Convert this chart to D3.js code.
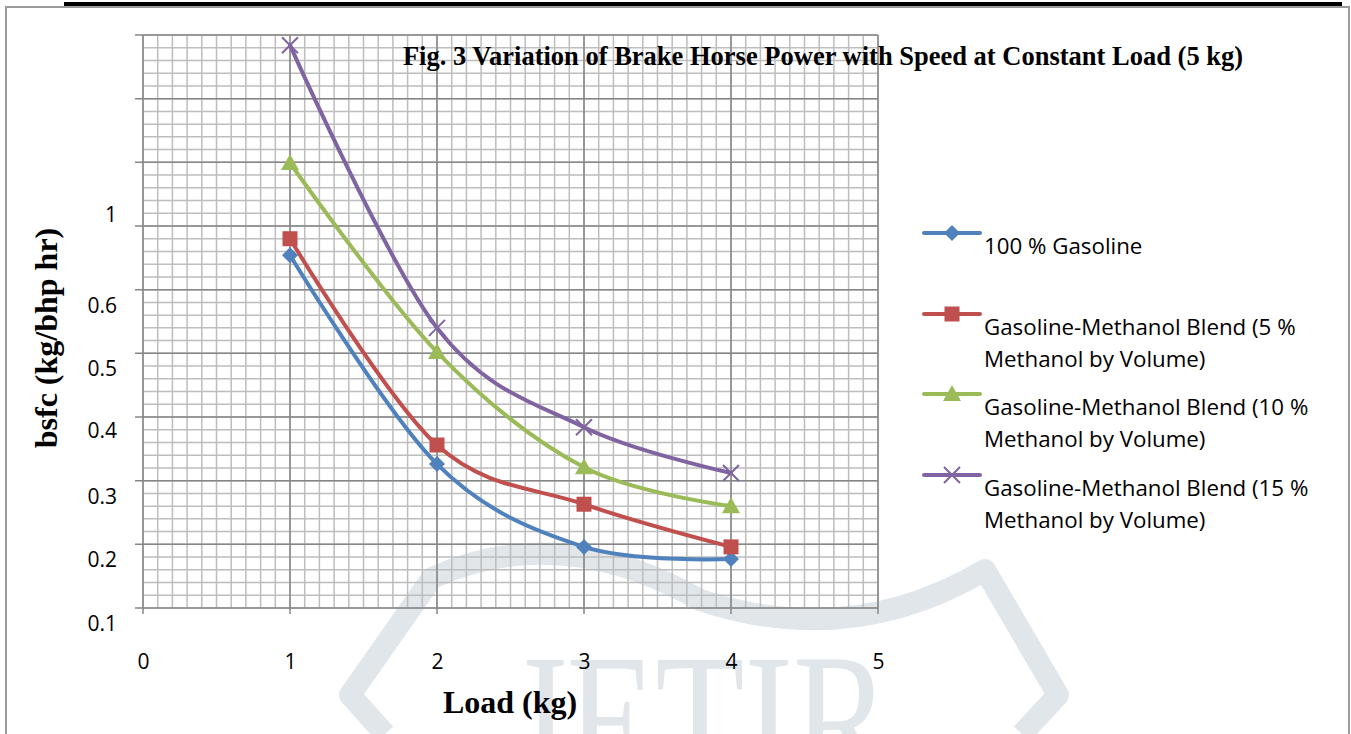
<!DOCTYPE html>
<html>
<head>
<meta charset="utf-8">
<script src="https://cdn.jsdelivr.net/npm/d3@7"></script>
<style>
  body { margin: 0; background: #fff; }
  svg { display: block; }
</style>
</head>
<body>
<div id="chart"></div>
<script>
// values
const loads = [1, 2, 3, 4];
const gasoline = [0.654, 0.326, 0.196, 0.177];
const blend5 = [0.680, 0.356, 0.263, 0.196];
const blend10 = [0.799, 0.502, 0.321, 0.260];
const blend15 = [0.984, 0.540, 0.384, 0.312];

const seriesNames = [
    ["100 % Gasoline"],
    ["Gasoline-Methanol Blend (5 %", "Methanol by Volume)"],
    ["Gasoline-Methanol Blend (10 %", "Methanol by Volume)"],
    ["Gasoline-Methanol Blend (15 %", "Methanol by Volume)"]
];
const seriesColors = ["#4f81bd", "#c0504d", "#9bbb59", "#8064a2"];
const seriesMarkers = ["diamond", "square", "triangle", "cross"];

const xTicks = [0, 1, 2, 3, 4, 5];
// the labels in the original sit a bit off the grid lines
const yTickLabels = ["0.1", "0.2", "0.3", "0.4", "0.5", "0.6", "1"];
const yTickLabelAt = [0.075, 0.175, 0.275, 0.378, 0.475, 0.574, 0.717];

const width = 1351, height = 734;
const sans = "'Open Sans', Lato, sans-serif";
const serif = "'Liberation Serif', 'Times New Roman', serif";

var svg = d3.select("#chart")
    .append("svg")
    .attr("width", width)
    .attr("height", height);

// page frame
svg.append("rect")
    .attr("x", 6).attr("y", 7)
    .attr("width", 1343).attr("height", 740)
    .attr("fill", "none")
    .attr("stroke", "#9a9a9a")
    .attr("stroke-width", 2);
svg.append("rect")
    .attr("x", 64).attr("y", 2)
    .attr("width", 1278).attr("height", 4)
    .attr("fill", "#000");

var x = d3.scaleLinear().domain([0, 5]).range([143, 878]);
var y = d3.scaleLinear().domain([0.1, 1.0]).range([608, 35]);

// faint journal watermark (behind everything, grid shows through it)
var wm = svg.append("g").attr("pointer-events", "none");
wm.append("path")
    .attr("d", "M385,734L350,695L432,578Q560,520 700,600Q850,650 985,570L1058,695L1022,734")
    .attr("fill", "none")
    .attr("stroke", "#e1e6eb")
    .attr("stroke-width", 22)
    .attr("stroke-linejoin", "round");
wm.append("text")
    .attr("x", 510).attr("y", 785)
    .attr("textLength", 380)
    .attr("lengthAdjust", "spacingAndGlyphs")
    .attr("font-family", serif)
    .attr("font-size", 190)
    .attr("fill", "#e1e6eb")
    .text("JETIR");

var grid = svg.append("g").attr("class", "grid");

// minor grid
var minorX = d3.range(0, 51).map(function (i) { return i / 10; });
var minorY = d3.range(0, 46).map(function (i) { return 0.1 + i * 0.02; });

grid.selectAll(".minor-v")
    .data(minorX)
    .enter()
    .append("line")
    .attr("x1", function (d) { return x(d); })
    .attr("x2", function (d) { return x(d); })
    .attr("y1", y(1.0)).attr("y2", y(0.1))
    .attr("stroke", "#bdbdbd")
    .attr("stroke-width", 1.5);

grid.selectAll(".minor-h")
    .data(minorY)
    .enter()
    .append("line")
    .attr("x1", x(0)).attr("x2", x(5))
    .attr("y1", function (d) { return y(d); })
    .attr("y2", function (d) { return y(d); })
    .attr("stroke", "#bdbdbd")
    .attr("stroke-width", 1.5);

// major grid, extended a little past the axes as tick marks
var majorY = d3.range(0, 10).map(function (i) { return 0.1 + i * 0.1; });

grid.selectAll(".major-h")
    .data(majorY)
    .enter()
    .append("line")
    .attr("x1", x(0) - 8).attr("x2", x(5))
    .attr("y1", function (d) { return y(d); })
    .attr("y2", function (d) { return y(d); })
    .attr("stroke", "#868686")
    .attr("stroke-width", 1.5);

grid.selectAll(".major-v")
    .data(xTicks)
    .enter()
    .append("line")
    .attr("x1", function (d) { return x(d); })
    .attr("x2", function (d) { return x(d); })
    .attr("y1", y(1.0)).attr("y2", y(0.1) + 6)
    .attr("stroke", "#868686")
    .attr("stroke-width", 1.5);

// axes (labels only, the lines come from the grid)
var xAxis = svg.append("g")
    .attr("transform", "translate(0," + y(0.1) + ")")
    .call(d3.axisBottom(x).tickValues(xTicks).tickFormat(d3.format("d"))
        .tickSize(0).tickPadding(46));

var yAxis = svg.append("g")
    .attr("transform", "translate(" + x(0) + ",0)")
    .call(d3.axisLeft(y).tickValues(yTickLabelAt)
        .tickFormat(function (d, i) { return yTickLabels[i]; })
        .tickSize(0).tickPadding(26));

[xAxis, yAxis].forEach(function (a) {
    a.select(".domain").remove();
    a.selectAll("text")
        .attr("font-family", sans)
        .attr("font-size", 21)
        .attr("fill", "#000");
});

// series
var series = [gasoline, blend5, blend10, blend15].map(function (vals, k) {
    return {
        color: seriesColors[k],
        marker: seriesMarkers[k],
        points: loads.map(function (l, i) { return { x: l, y: vals[i] }; })
    };
});

var line = d3.line()
    .x(function (d) { return x(d.x); })
    .y(function (d) { return y(d.y); })
    .curve(d3.curveCardinal.tension(0));

function drawMarker(g, type, color) {
    if (type === "diamond") {
        g.append("path").attr("d", "M0,-8L8,0L0,8L-8,0Z").attr("fill", color);
    } else if (type === "square") {
        g.append("rect").attr("x", -7.5).attr("y", -7.5)
            .attr("width", 15).attr("height", 15).attr("fill", color);
    } else if (type === "triangle") {
        g.append("path").attr("d", "M0,-9L9,7L-9,7Z").attr("fill", color);
    } else {
        g.append("path").attr("d", "M-8,-8L8,8M-8,8L8,-8")
            .attr("stroke", color).attr("stroke-width", 2).attr("fill", "none");
    }
}

var plot = svg.append("g").attr("class", "series");

series.forEach(function (s) {
    plot.append("path")
        .datum(s.points)
        .attr("d", line)
        .attr("fill", "none")
        .attr("stroke", s.color)
        .attr("stroke-width", 4)
        .attr("stroke-linecap", "round");

    plot.selectAll(null)
        .data(s.points)
        .enter()
        .append("g")
        .attr("transform", function (d) {
            return "translate(" + x(d.x) + "," + y(d.y) + ")";
        })
        .each(function () { drawMarker(d3.select(this), s.marker, s.color); });
});

// titles
svg.append("text")
    .attr("x", 823).attr("y", 65)
    .attr("text-anchor", "middle")
    .attr("font-family", serif)
    .attr("font-weight", "bold")
    .attr("font-size", 26.5)
    .text("Fig. 3 Variation of Brake Horse Power with Speed at Constant Load (5 kg)");

svg.append("text")
    .attr("transform", "translate(57,338) rotate(-90)")
    .attr("text-anchor", "middle")
    .attr("font-family", serif)
    .attr("font-weight", "bold")
    .attr("font-size", 32)
    .text("bsfc (kg/bhp hr)");

svg.append("text")
    .attr("x", 510).attr("y", 713)
    .attr("text-anchor", "middle")
    .attr("font-family", serif)
    .attr("font-weight", "bold")
    .attr("font-size", 32)
    .text("Load (kg)");

// legend
var legendY = [233, 314, 394, 475];
var legend = svg.append("g").attr("class", "legend");

series.forEach(function (s, k) {
    var g = legend.append("g")
        .attr("transform", "translate(952," + legendY[k] + ")");
    g.append("line")
        .attr("x1", -28).attr("x2", 28)
        .attr("stroke", s.color).attr("stroke-width", 4)
        .attr("stroke-linecap", "round");
    drawMarker(g, s.marker, s.color);
    var t = g.append("text")
        .attr("x", 32)
        .attr("font-family", sans)
        .attr("font-size", 22.3)
        .attr("fill", "#000");
    seriesNames[k].forEach(function (ln, i) {
        t.append("tspan")
            .attr("x", 32)
            .attr("y", 21 + i * 32)
            .text(ln);
    });
});
</script>
</body>
</html>
